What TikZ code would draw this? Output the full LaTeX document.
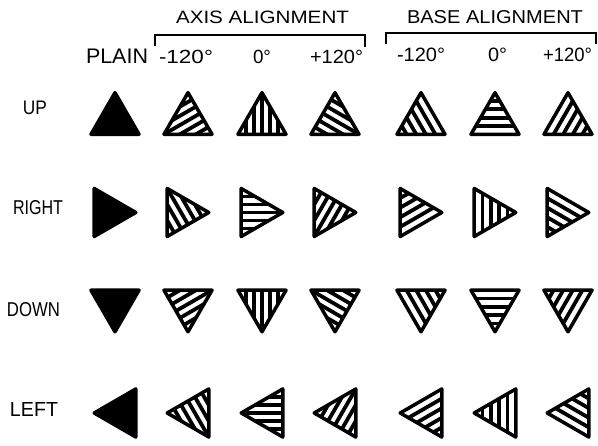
\documentclass[tikz,border=0pt]{standalone}
\usepackage{fontspec}
\usepackage{graphicx}
\setmainfont{Liberation Sans}
\tikzset{
  outline/.style={line width=3.5pt, line join=round, draw=black},
  stripe/.style={line width=3.8pt, black},
  bracket/.style={line width=1.3pt, black},
  lbl/.style={inner sep=0pt, outer sep=0pt, anchor=south west}
}
% triangle: #1 cx, #2 cy (image y), #3 orientation, #4 fill code
\newcommand\hatchtri[4]{%
  \begin{scope}[shift={(#1,446-#2)}, rotate=#3]
    \begin{scope}
      \clip (0,20.785) -- (-24,-20.785) -- (24,-20.785) -- cycle;
      #4
    \end{scope}
    \draw[outline] (0,20.785) -- (-24,-20.785) -- (24,-20.785) -- cycle;
  \end{scope}}
\newcommand\plainfill{\fill (-40,-40) rectangle (40,40);}
\newcommand\axpat[1]{\begin{scope}[rotate around={#1:(0,-6.928)}]
  \foreach \k in {-2,...,2} \draw[stripe] (\k*8,-45) -- (\k*8,45);
  \end{scope}}
\newcommand\bapat[1]{\begin{scope}[rotate around={#1:(0,-6.928)}]
  \foreach \k in {1,...,4} \draw[stripe] (-45,-20.785+\k*8.314) -- (45,-20.785+\k*8.314);
  \end{scope}}
\begin{document}
\begin{tikzpicture}[x=1pt,y=1pt]
\useasboundingbox (0,0) rectangle (598,446);
\fill[white] (0,0) rectangle (598,446);

% headers
\node[lbl] (axishead) at (176,422) {\resizebox{173pt}{12.5pt}{AXIS ALIGNMENT}};
\node[lbl] (basehead) at (407,422) {\resizebox{176pt}{13pt}{BASE ALIGNMENT}};
\node[lbl] (plain) at (86,382) {\resizebox{62pt}{14.5pt}{PLAIN}};
\node[lbl] (am) at (159,382.7) {\resizebox{54pt}{13.3pt}{-120°}};
\node[lbl] (az) at (253,382.7) {\resizebox{18pt}{13.3pt}{0°}};
\node[lbl] (ap) at (310,382.7) {\resizebox{53pt}{13.3pt}{+120°}};
\node[lbl] (bm) at (397,384) {\resizebox{48pt}{13.5pt}{-120°}};
\node[lbl] (bz) at (488,384) {\resizebox{19pt}{13.5pt}{0°}};
\node[lbl] (bp) at (543,384) {\resizebox{49pt}{13.5pt}{+120°}};

% brackets
\coordinate (a1) at (155,400); \coordinate (a2) at (155,411);
\coordinate (a3) at (365,411); \coordinate (a4) at (365,399);
\draw[bracket] (a1) -- (a2) -- (a3) -- (a4);
\coordinate (b1) at (386,402); \coordinate (b2) at (386,413);
\coordinate (b3) at (596,413); \coordinate (b4) at (596,402);
\draw[bracket] (b1) -- (b2) -- (b3) -- (b4);

% row labels
\node[lbl] (up) at (23,331) {\resizebox{24pt}{13.5pt}{UP}};
\node[lbl] (right) at (13,231) {\resizebox{50pt}{14pt}{RIGHT}};
\node[lbl] (down) at (7,129) {\resizebox{53pt}{14pt}{DOWN}};
\node[lbl] (left) at (10,29) {\resizebox{48pt}{14pt}{LEFT}};

% triangles
\foreach \cy/\rot in {113.5/0, 212.5/-90, 311/180, 413/90} {
  \hatchtri{115}{\cy}{\rot}{\plainfill}
  \hatchtri{188}{\cy}{\rot}{\axpat{120}}
  \hatchtri{262}{\cy}{\rot}{\axpat{0}}
  \hatchtri{335}{\cy}{\rot}{\axpat{-120}}
  \hatchtri{421}{\cy}{\rot}{\bapat{120}}
  \hatchtri{495}{\cy}{\rot}{\bapat{0}}
  \hatchtri{568}{\cy}{\rot}{\bapat{-120}}
}
\end{tikzpicture}
\end{document}
